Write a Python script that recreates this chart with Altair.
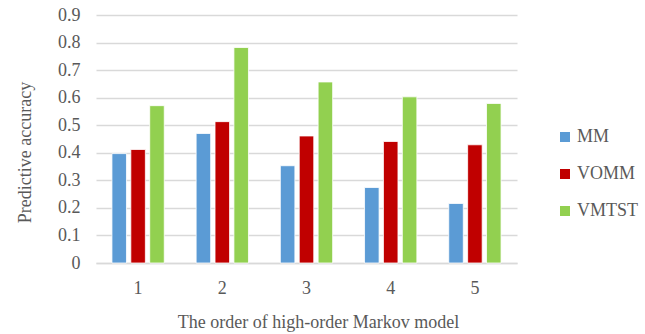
import altair as alt
import pandas as pd

# Predictive accuracy by model order
orders = ["1", "2", "3", "4", "5"]
models = ["MM", "VOMM", "VMTST"]
mm_acc = [0.397, 0.470, 0.353, 0.274, 0.216]
vomm_acc = [0.412, 0.513, 0.461, 0.441, 0.429]
vmtst_acc = [0.571, 0.782, 0.657, 0.603, 0.579]
colors = ["#5B9BD5", "#C00000", "#92D050"]
y_ticks = [0, 0.1, 0.2, 0.3, 0.4, 0.5, 0.6, 0.7, 0.8, 0.9]

rows = []
for name, vals in zip(models, [mm_acc, vomm_acc, vmtst_acc]):
    for o, v in zip(orders, vals):
        rows.append({"order": o, "model": name, "accuracy": v})
df = pd.DataFrame(rows)

font = "Liberation Serif"
text_color = "#595959"
grid_color = "#D9D9D9"
fs = 18

chart = alt.Chart(df).mark_bar(stroke="white", strokeWidth=0.8).encode(
    x=alt.X(
        "order:N",
        sort=orders,
        scale=alt.Scale(paddingInner=0.327, paddingOuter=0.1635),
        axis=alt.Axis(
            title="The order of high-order Markov model",
            labelAngle=0,
            ticks=False,
            domainColor=grid_color,
            domainWidth=1.5,
            labelPadding=16,
            labelBaseline="top",
            titlePadding=16,
            titleX=222,
        ),
    ),
    xOffset=alt.XOffset(
        "model:N",
        sort=models,
        scale=alt.Scale(paddingInner=0.23, paddingOuter=0.115),
    ),
    y=alt.Y(
        "accuracy:Q",
        scale=alt.Scale(domain=[0, 0.9], nice=False),
        axis=alt.Axis(
            title="Predictive accuracy",
            values=y_ticks,
            format=".1~f",
            ticks=False,
            domain=False,
            labelPadding=16,
            gridColor=grid_color,
            gridWidth=1.5,
            titlePadding=23,
            titleY=137,
        ),
    ),
    color=alt.Color(
        "model:N",
        sort=models,
        scale=alt.Scale(domain=models, range=colors),
        legend=alt.Legend(
            title=None,
            orient="none",
            legendX=460,
            legendY=113,
            symbolType="square",
            symbolSize=100,
            symbolStrokeWidth=0,
            labelOffset=3,
            rowPadding=19,
            labelFont=font,
            labelFontSize=fs,
            labelColor=text_color,
        ),
    ),
).properties(
    width=421,
    height=248,
    autosize=alt.AutoSizeParams(type="none"),
    padding={"left": 96, "top": 15, "right": 128, "bottom": 71},
).configure_view(
    stroke=None
).configure_axis(
    labelFont=font,
    titleFont=font,
    labelFontSize=fs,
    titleFontSize=fs,
    labelColor=text_color,
    titleColor=text_color,
    titleFontWeight="normal",
)

chart.save("out.html", embed_options={"renderer": "svg", "actions": False})
